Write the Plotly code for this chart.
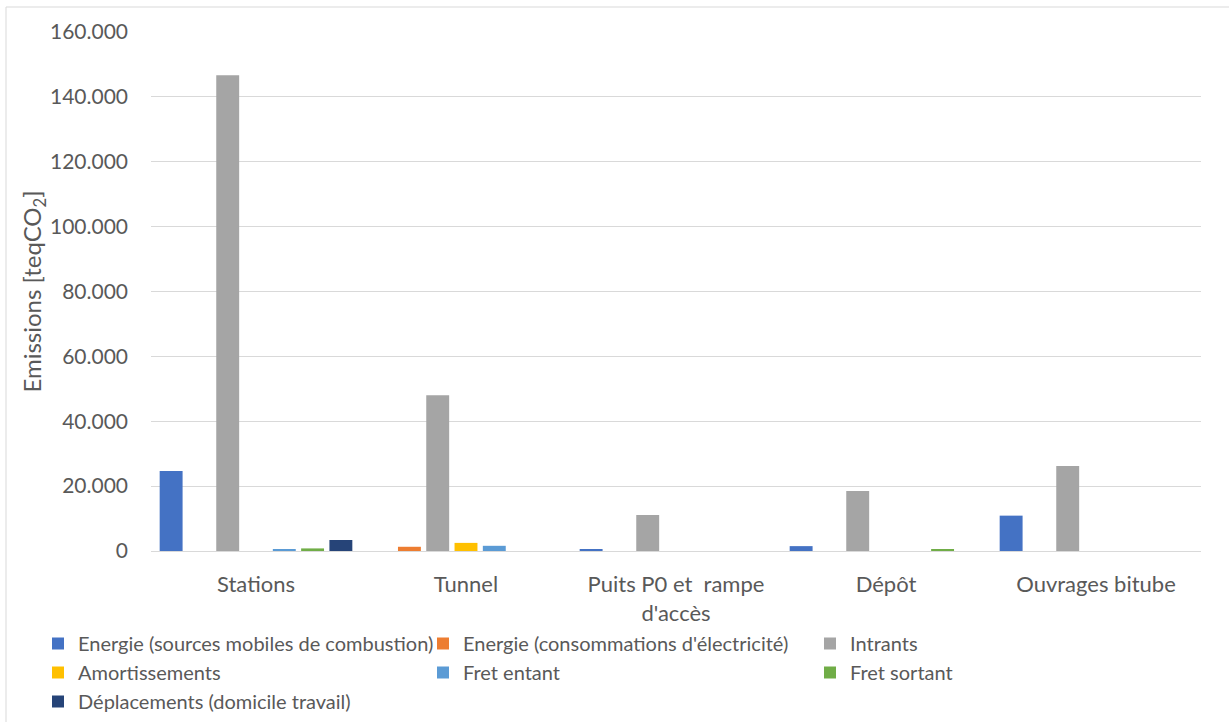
import plotly.graph_objects as go

# Emissions by construction element and source (teqCO2)
categories = ["Stations", "Tunnel", "Puits P0 et  rampe<br>d'accès", "Dépôt", "Ouvrages bitube"]

energie_combustion = [24700, 0, 500, 1500, 10900]
energie_electricite = [0, 1300, 0, 0, 0]
intrants = [146700, 48000, 11100, 18500, 26200]
amortissements = [0, 2500, 0, 0, 0]
fret_entant = [500, 1600, 0, 0, 0]
fret_sortant = [800, 0, 0, 600, 0]
deplacements = [3400, 0, 0, 0, 0]

series = [
    ("Energie (sources mobiles de combustion)", energie_combustion, "#4472C4", "legend"),
    ("Energie (consommations d'électricité)", energie_electricite, "#ED7D31", "legend2"),
    ("Intrants", intrants, "#A5A5A5", "legend3"),
    ("Amortissements", amortissements, "#FFC000", "legend"),
    ("Fret entant", fret_entant, "#5B9BD5", "legend2"),
    ("Fret sortant", fret_sortant, "#70AD47", "legend3"),
    ("Déplacements (domicile travail)", deplacements, "#264478", "legend"),
]

FONT = "Lato"
TXT = "#595959"
GRID = "#D9D9D9"

fig = go.Figure()
for name, vals, color, leg in series:
    fig.add_trace(go.Bar(
        name=name, x=categories, y=vals,
        marker=dict(color=color, line=dict(width=0)),
        legend=leg,
    ))

W, H = 1229, 722
L, R, T, B = 151, 28, 32, 171
pw, ph = W - L - R, H - T - B

def px_x(p):
    return (p - L) / pw

def px_y(p):
    return (H - B - p) / ph

legend_common = dict(
    orientation="v", xanchor="left", yanchor="top",
    font=dict(family=FONT, size=20, color=TXT),
    bgcolor="rgba(0,0,0,0)", tracegroupgap=0, itemwidth=30,
)

fig.update_layout(
    width=W, height=H,
    margin=dict(l=L, r=R, t=T, b=B, autoexpand=False),
    paper_bgcolor="white", plot_bgcolor="white",
    separators=",.",
    barmode="group", bargap=0.057, bargroupgap=0.19,
    font=dict(family=FONT, color=TXT),
    legend=dict(x=px_x(38), y=px_y(624), **legend_common),
    legend2=dict(x=px_x(423), y=px_y(624), **legend_common),
    legend3=dict(x=px_x(810), y=px_y(624), **legend_common),
    xaxis=dict(
        automargin=False,
        showgrid=False, showline=True, linecolor=GRID, linewidth=1,
        ticks="", tickfont=dict(family=FONT, size=22, color=TXT),
        ticklabelstandoff=14,
    ),
    yaxis=dict(
        automargin=False,
        range=[0, 160000], dtick=20000, tickformat=",d",
        showgrid=True, gridcolor=GRID, gridwidth=1,
        zeroline=True, zerolinecolor=GRID, zerolinewidth=1,
        showline=False, ticks="",
        tickfont=dict(family=FONT, size=21, color=TXT),
        ticklabelstandoff=22,
        title=dict(text="Emissions [teqCO<sub>2</sub>]",
                   font=dict(family=FONT, size=24, color=TXT), standoff=0),
    ),
    shapes=[dict(
        type="rect", xref="paper", yref="paper",
        x0=px_x(6), x1=px_x(1240), y0=px_y(740), y1=px_y(7),
        line=dict(color=GRID, width=1), fillcolor="rgba(0,0,0,0)", layer="below",
    )],
)

fig.write_html("out.html")
